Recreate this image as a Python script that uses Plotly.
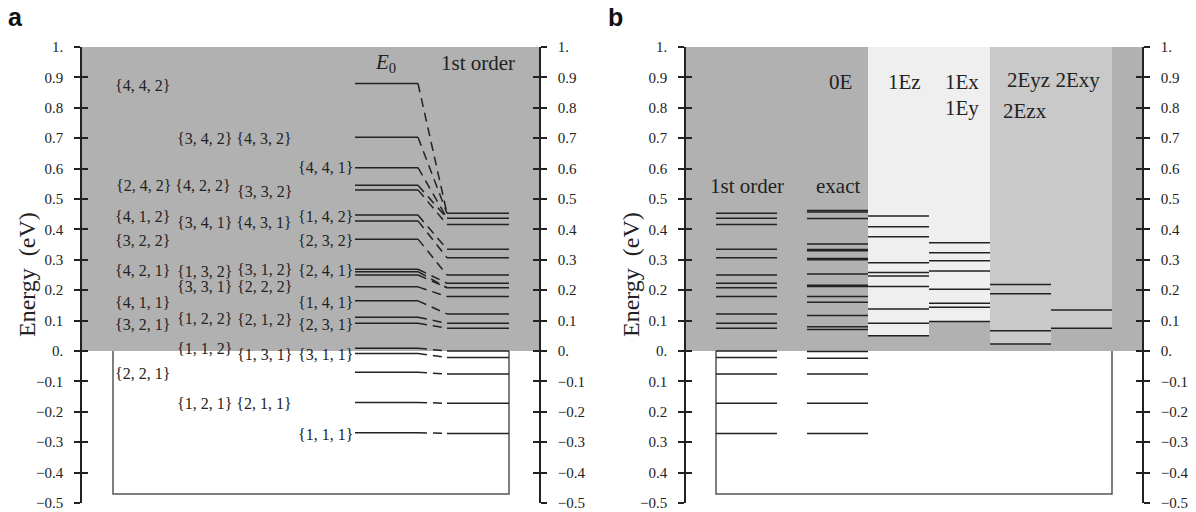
import plotly.graph_objects as go

# ---------------- data ----------------
tick_vals = [1.0, 0.9, 0.8, 0.7, 0.6, 0.5, 0.4, 0.3, 0.2, 0.1, 0.0, -0.1, -0.2, -0.3, -0.4, -0.5]
tick_text_a = ["1.", "0.9", "0.8", "0.7", "0.6", "0.5", "0.4", "0.3", "0.2", "0.1", "0.",
               "\u22120.1", "\u22120.2", "\u22120.3", "\u22120.4", "\u22120.5"]
tick_text_b_left = ["1.", "0.9", "0.8", "0.7", "0.6", "0.5", "0.4", "0.3", "0.2", "0.1", "0.",
                    "0.1", "0.2", "0.3", "0.4", "\u22120.5"]

# panel a: unperturbed levels E0 and the first-order level each one moves to
e0_levels = [0.880, 0.703, 0.603, 0.545, 0.530, 0.447, 0.428, 0.368, 0.269, 0.261,
             0.250, 0.211, 0.165, 0.111, 0.091, 0.009, -0.008, -0.070, -0.169, -0.269]
e0_target = [0.453, 0.453, 0.437, 0.437, 0.416, 0.335, 0.307, 0.250, 0.223, 0.208,
             0.208, 0.179, 0.122, 0.091, 0.075, 0.000, -0.021, -0.076, -0.172, -0.271]
first_order = [0.453, 0.437, 0.416, 0.335, 0.307, 0.250, 0.223, 0.208, 0.179, 0.122,
               0.091, 0.075, 0.000, -0.021, -0.076, -0.172, -0.271]

# state labels: (text, column, energy at which the label sits)
state_labels = [
    ("{4, 4, 2}", 1, 0.872),
    ("{3, 4, 2} {4, 3, 2}", 2.5, 0.700),
    ("{4, 4, 1}", 4, 0.602),
    ("{2, 4, 2} {4, 2, 2}", 1.5, 0.544),
    ("{3, 3, 2}", 3, 0.524),
    ("{4, 1, 2}", 1, 0.441),
    ("{3, 4, 1} {4, 3, 1}", 2.5, 0.422),
    ("{1, 4, 2}", 4, 0.441),
    ("{3, 2, 2}", 1, 0.365),
    ("{2, 3, 2}", 4, 0.365),
    ("{4, 2, 1}", 1, 0.264),
    ("{1, 3, 2}", 2, 0.262),
    ("{3, 3, 1}", 2, 0.212),
    ("{3, 1, 2}", 3, 0.267),
    ("{2, 2, 2}", 3, 0.212),
    ("{2, 4, 1}", 4, 0.264),
    ("{4, 1, 1}", 1, 0.159),
    ("{1, 4, 1}", 4, 0.159),
    ("{3, 2, 1}", 1, 0.088),
    ("{1, 2, 2}", 2, 0.108),
    ("{2, 1, 2}", 3, 0.102),
    ("{2, 3, 1}", 4, 0.088),
    ("{1, 1, 2}", 2, 0.009),
    ("{1, 3, 1}", 3, -0.013),
    ("{3, 1, 1}", 4, -0.013),
    ("{2, 2, 1}", 1, -0.073),
    ("{1, 2, 1} {2, 1, 1}", 2.5, -0.172),
    ("{1, 1, 1}", 4, -0.276),
]

# panel b: levels per column
b_first_order = first_order
b_exact = [0.462, 0.457, 0.436, 0.352, 0.334, 0.330, 0.304, 0.300, 0.253, 0.216, 0.212,
           0.179, 0.160, 0.117, 0.080, 0.071, -0.002, -0.024, -0.076, -0.172, -0.271]
b_1ez = [0.444, 0.409, 0.376, 0.290, 0.258, 0.247, 0.212, 0.138, 0.091, 0.050]
b_1ex = [0.356, 0.323, 0.297, 0.263, 0.203, 0.157, 0.144, 0.097]
b_2eyz = [0.219, 0.188, 0.067, 0.023]
b_2exy = [0.135, 0.075]
box_bottom = -0.47

# ---------------- styling / layout constants ----------------
OFF = 8                     # page body margin of the browser (figure starts 8px in)
W, H = 1196 - OFF, 512 - OFF
GRAY = "#b1b1b1"
LIGHT = "#efefef"
MED = "#c9c9c9"
INK = "#222222"
SERIF = "Liberation Serif"


def px(xp):
    return (xp - OFF) / W


def py(yp):
    return 1 - (yp - OFF) / H


AX_L, AX_R = 82, 539      # panel a x extent (screen pixel units)
BX_L, BX_R = 686, 1142    # panel b x extent
ydom = [py(503), py(47)]

fig = go.Figure()


def hlines(xs0, xs1, ys):
    xx, yy = [], []
    for y in ys:
        xx += [xs0, xs1, None]
        yy += [y, y, None]
    return xx, yy


LW = 1.5
# ---- panel a ----
x, y = hlines(355, 418, e0_levels)
fig.add_trace(go.Scatter(x=x, y=y, mode="lines", line=dict(color=INK, width=LW),
                         xaxis="x", yaxis="y", showlegend=False, hoverinfo="skip"))
cx, cy = [], []
for e, t in zip(e0_levels, e0_target):
    cx += [418, 447, None]
    cy += [e, t, None]
fig.add_trace(go.Scatter(x=cx, y=cy, mode="lines",
                         line=dict(color=INK, width=LW, dash="9px,6px"),
                         xaxis="x", yaxis="y", showlegend=False, hoverinfo="skip"))
x, y = hlines(447, 509, first_order)
fig.add_trace(go.Scatter(x=x, y=y, mode="lines", line=dict(color=INK, width=LW),
                         xaxis="x", yaxis="y", showlegend=False, hoverinfo="skip"))

col_x = {1: 142.5, 1.5: 173.5, 2: 204.5, 2.5: 234.5, 3: 264.5, 4: 325.5}
annotations = []
for txt, col, e in state_labels:
    annotations.append(dict(x=col_x[col], y=e, xref="x", yref="y", text=txt, showarrow=False,
                            font=dict(family=SERIF, size=16, color=INK),
                            xanchor="center", yanchor="middle"))
annotations.append(dict(x=385, y=0.947, xref="x", yref="y", text="<i>E</i><sub>0</sub>",
                        showarrow=False, font=dict(family=SERIF, size=21, color=INK)))
annotations.append(dict(x=478, y=0.947, xref="x", yref="y", text="1st order",
                        showarrow=False, font=dict(family=SERIF, size=21, color=INK)))

# ---- panel b ----
b_cols = [
    (716, 777, b_first_order),
    (807, 868, b_exact),
    (868, 929, b_1ez),
    (929, 990, b_1ex),
    (990, 1051, b_2eyz),
    (1051, 1112, b_2exy),
]
for x0, x1, lv in b_cols:
    x, y = hlines(x0, x1, lv)
    fig.add_trace(go.Scatter(x=x, y=y, mode="lines", line=dict(color=INK, width=LW),
                             xaxis="x2", yaxis="y2", showlegend=False, hoverinfo="skip"))

for txt, xc, e in [("1st order", 747, 0.544), ("exact", 838, 0.544), ("0E", 840, 0.885),
                   ("1Ez", 904, 0.885), ("1Ex", 962, 0.885), ("1Ey", 962, 0.800),
                   ("2Eyz 2Exy", 1053, 0.891), ("2Ezx", 1025, 0.790)]:
    annotations.append(dict(x=xc, y=e, xref="x2", yref="y2", text=txt, showarrow=False,
                            font=dict(family=SERIF, size=21, color=INK)))

# axis titles and panel letters
for xp in [27, 631]:
    annotations.append(dict(x=px(xp), y=0.5 * (ydom[0] + ydom[1]), xref="paper", yref="paper",
                            text="Energy  (eV)", textangle=-90, showarrow=False,
                            xanchor="center", yanchor="middle",
                            font=dict(family=SERIF, size=24, color=INK)))
annotations.append(dict(x=px(15), y=py(17), xref="paper", yref="paper", text="<b>a</b>",
                        showarrow=False, xanchor="center", yanchor="middle",
                        font=dict(family="Liberation Sans", size=25, color="#111")))
annotations.append(dict(x=px(615), y=py(17), xref="paper", yref="paper", text="<b>b</b>",
                        showarrow=False, xanchor="center", yanchor="middle",
                        font=dict(family="Liberation Sans", size=25, color="#111")))

# ---- shapes (backgrounds, boxes) ----
shapes = []
shapes.append(dict(type="rect", xref="x", yref="y", x0=AX_L, x1=AX_R, y0=0, y1=1,
                   fillcolor=GRAY, line=dict(width=0), layer="below"))
shapes.append(dict(type="path", xref="x", yref="y",
                   path=f"M 113,0 L 113,{box_bottom} L 509,{box_bottom} L 509,0",
                   line=dict(color="#555", width=1.5), layer="below"))
shapes.append(dict(type="rect", xref="x2", yref="y2", x0=BX_L, x1=BX_R, y0=0, y1=1,
                   fillcolor=GRAY, line=dict(width=0), layer="below"))
for x0, x1, lv, col in [(868, 929, b_1ez, LIGHT), (929, 990, b_1ex, LIGHT),
                        (990, 1051, b_2eyz, MED), (1051, 1112, b_2exy, MED)]:
    shapes.append(dict(type="rect", xref="x2", yref="y2", x0=x0, x1=x1, y0=min(lv), y1=1,
                       fillcolor=col, line=dict(width=0), layer="below"))
shapes.append(dict(type="path", xref="x2", yref="y2",
                   path=f"M 716,0 L 716,{box_bottom} L 1112,{box_bottom} L 1112,0",
                   line=dict(color="#555", width=1.5), layer="below"))

# invisible traces so the overlay (tick-only) axes render
for xa, ya in [("x", "y3"), ("x", "y5"), ("x", "y6"), ("x2", "y4"), ("x2", "y7"), ("x2", "y8")]:
    fig.add_trace(go.Scatter(x=[AX_L if xa == "x" else BX_L], y=[0.5], mode="lines",
                             xaxis=xa, yaxis=ya, showlegend=False, hoverinfo="skip",
                             line=dict(width=0)))

tickfont = dict(family=SERIF, size=15, color=INK)
base_y = dict(range=[-0.5, 1.0], domain=ydom, showgrid=False, zeroline=False,
              tickmode="array", tickvals=tick_vals, ticklen=6, tickwidth=1.5, tickcolor=INK,
              fixedrange=True, automargin=False)


def yax(**kw):
    d = dict(base_y)
    d.update(kw)
    return d


fig.update_layout(
    template="none",
    width=W, height=H,
    margin=dict(l=0, r=0, t=0, b=0, pad=0, autoexpand=False),
    paper_bgcolor="white", plot_bgcolor="rgba(0,0,0,0)",
    showlegend=False,
    xaxis=dict(domain=[px(AX_L), px(AX_R)], range=[AX_L, AX_R], visible=False,
               fixedrange=True, automargin=False),
    xaxis2=dict(domain=[px(BX_L), px(BX_R)], range=[BX_L, BX_R], visible=False,
                fixedrange=True, automargin=False),
    yaxis=yax(anchor="x", side="left", ticks="outside", ticktext=tick_text_a, tickfont=tickfont,
              showline=True, linecolor=INK, linewidth=1.5, ticklabelstandoff=8),
    yaxis3=yax(anchor="x", overlaying="y", side="right", ticks="outside", ticktext=tick_text_a,
               tickfont=tickfont, showline=True, linecolor=INK, linewidth=1.5,
               ticklabelstandoff=8),
    yaxis5=yax(anchor="x", overlaying="y", side="left", ticks="inside", showticklabels=False),
    yaxis6=yax(anchor="x", overlaying="y", side="right", ticks="inside", showticklabels=False),
    yaxis2=yax(anchor="x2", side="left", ticks="outside", ticktext=tick_text_b_left,
               tickfont=tickfont, showline=True, linecolor=INK, linewidth=1.5,
               ticklabelstandoff=8),
    yaxis4=yax(anchor="x2", overlaying="y2", side="right", ticks="outside", ticktext=tick_text_a,
               tickfont=tickfont, showline=True, linecolor=INK, linewidth=1.5,
               ticklabelstandoff=8),
    yaxis7=yax(anchor="x2", overlaying="y2", side="left", ticks="inside", showticklabels=False),
    yaxis8=yax(anchor="x2", overlaying="y2", side="right", ticks="inside", showticklabels=False),
    shapes=shapes,
    annotations=annotations,
)

fig.write_html("out.html")
